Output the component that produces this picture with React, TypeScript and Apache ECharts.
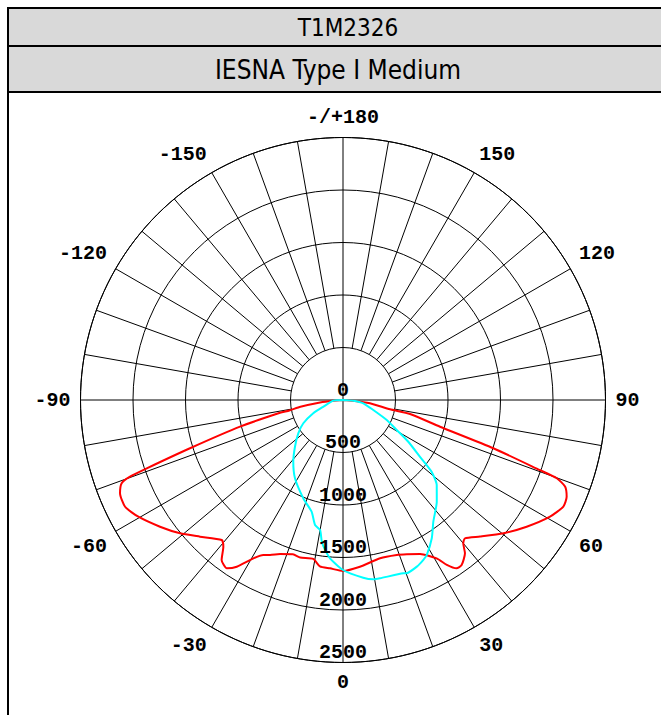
import React, { useEffect, useRef } from "react";
import * as echarts from "echarts";

// ---- Data ----
const titleText = "T1M2326";
const subtitleText = "IESNA Type I Medium";

const radiusTicks = [0, 500, 1000, 1500, 2000, 2500];
const angleLabelStep = 30;
const spokeAngles = [
  -170, -160, -150, -140, -130, -120, -110, -100, -90, -80, -70, -60, -50, -40, -30, -20, -10,
  0, 10, 20, 30, 40, 50, 60, 70, 80, 90, 100, 110, 120, 130, 140, 150, 160, 170, 180,
];
const throughCenterAngles = [-90, 0, 90, 180];

// Red curve (90-270 plane): angle (deg, 0 = nadir), candela
const redAngles = [
  -90, -86, -84, -81, -79, -78.5, -75.5, -72.5, -70.8, -70.2, -69.4, -67.3, -63.9, -60.3, -55.3,
  -50.7, -46.3, -40.9, -39.2, -37.2, -34.6, -32.5, -29.5, -27.2, -25.2, -22.2, -18, -15.2, -10.6,
  -7.9, -4.4, 0, 5.8, 13.2, 19.1, 22.5, 26.6, 30.6, 32.2, 34, 35.7, 38.5, 40, 41.4, 45.1, 50.3,
  55.4, 60.6, 64.2, 66.6, 68.7, 69.9, 70.4, 72.2, 74.6, 78.2, 78.8, 83, 86, 90,
];
const redValues = [
  0, 95, 220, 410, 520, 612, 1013, 1528, 1979, 2156, 2252, 2302, 2311, 2244, 2120,
  2005, 1884, 1764, 1803, 1912, 1948, 1883, 1733, 1660, 1632, 1585, 1545, 1555, 1540,
  1600, 1608, 1628, 1596, 1548, 1562, 1590, 1640, 1752, 1856, 1934, 1936, 1866, 1782, 1756, 1843, 1986,
  2125, 2263, 2331, 2321, 2270, 2168, 1991, 1504, 958, 652, 456, 259, 95, 0,
];

// Cyan curve (0-180 plane)
const cyanAngles = [
  -90, -86, -71, -66, -59.6, -53.3, -45.8, -38.9, -31.5, -22, -15.7, -12.6, -10, -8.5, -6.8, -4.7,
  0, 6.5, 9.6, 11.7, 19.2, 20.2, 23.9, 26.6, 28.4, 32.7, 36.6, 42.7, 47.8, 51, 53.6, 57.4, 60.8,
  65.4, 71.7, 80.8, 86, 90,
];
const cyanValues = [
  0, 92, 200, 310, 438, 531, 638, 754, 875, 1010, 1105, 1220, 1257, 1365, 1438, 1513,
  1619, 1704, 1732, 1734, 1748, 1758, 1736, 1705, 1678, 1565, 1443, 1317, 1205, 1086, 911, 738, 586,
  458, 304, 196, 98, 0,
];

const MONO = "'Liberation Mono', 'DejaVu Sans Mono', monospace";
const HEAD = "'Liberation Sans Narrow', 'DejaVu Sans Condensed', Roboto, 'Liberation Sans', sans-serif";

export default function App() {
  const ref = useRef<HTMLDivElement>(null);

  useEffect(() => {
    if (!ref.current) return;
    const chart = echarts.init(ref.current, null, { renderer: "svg" });

    const rMax = radiusTicks[radiusTicks.length - 1];
    const spokeSeries = spokeAngles.map((a) => ({
      type: "line",
      coordinateSystem: "polar",
      data: [
        [throughCenterAngles.includes(a) ? 0 : radiusTicks[1], a],
        [rMax, a],
      ],
      symbol: "none",
      silent: true,
      z: 1,
      lineStyle: { color: "#000", width: 1 },
    }));

    const option: any = {
      animation: false,
      backgroundColor: "#fff",
      polar: { center: [343, 400], radius: 262.5 },
      angleAxis: {
        type: "value",
        min: -180,
        max: 180,
        interval: angleLabelStep,
        startAngle: 90,
        clockwise: false,
        axisLine: { show: true, lineStyle: { color: "#000", width: 1 } },
        axisTick: { show: false },
        splitLine: { show: false },
        axisLabel: {
          margin: 10,
          color: "#000",
          fontFamily: MONO,
          fontWeight: "bold",
          fontSize: 20,
          formatter: (v: number) => (v === -180 ? "-/+180" : v === 180 ? "" : String(v)),
        },
      },
      radiusAxis: {
        type: "value",
        min: 0,
        max: rMax,
        interval: 500,
        axisLine: { show: false },
        axisTick: { show: false },
        axisLabel: { show: false },
        splitLine: { show: true, lineStyle: { color: "#000", width: 1 } },
      },
      graphic: [
        {
          type: "rect",
          shape: { x: 8, y: 8, width: 670, height: 38 },
          style: { fill: "#d9d9d9", stroke: "#000", lineWidth: 2 },
        },
        {
          type: "rect",
          shape: { x: 8, y: 46, width: 670, height: 46 },
          style: { fill: "#d9d9d9", stroke: "#000", lineWidth: 2 },
        },
        {
          type: "line",
          shape: { x1: 8, y1: 92, x2: 8, y2: 720 },
          style: { stroke: "#000", lineWidth: 2 },
        },
        {
          type: "text",
          x: 348,
          y: 28,
          style: {
            text: titleText,
            fill: "#000",
            font: `24px ${HEAD}`,
            align: "center",
            verticalAlign: "middle",
          },
        },
        {
          type: "text",
          x: 338,
          y: 70,
          style: {
            text: subtitleText,
            fill: "#000",
            font: `26px ${HEAD}`,
            align: "center",
            verticalAlign: "middle",
          },
        },
      ],
      series: [
        ...spokeSeries,
        {
          type: "line",
          coordinateSystem: "polar",
          data: redAngles.map((a, i) => [redValues[i], a]),
          symbol: "none",
          smooth: 0.2,
          z: 3,
          lineStyle: { color: "#ff0000", width: 2 },
        },
        {
          type: "line",
          coordinateSystem: "polar",
          data: cyanAngles.map((a, i) => [cyanValues[i], a]),
          symbol: "none",
          smooth: 0.2,
          z: 3,
          lineStyle: { color: "#00ffff", width: 2 },
        },
        {
          type: "scatter",
          coordinateSystem: "polar",
          data: radiusTicks.map((v) => [v, 0]),
          symbolSize: 0,
          silent: true,
          z: 4,
          itemStyle: { opacity: 1 },
          label: {
            show: true,
            position: "top",
            distance: 0,
            color: "#000",
            opacity: 1,
            fontFamily: MONO,
            fontWeight: "bold",
            fontSize: 20,
            formatter: (p: any) => String(p.value[0]),
          },
        },
      ],
    };

    chart.setOption(option);
    return () => chart.dispose();
  }, []);

  return (
    <div
      ref={ref}
      style={{ position: "absolute", left: 0, top: 0, width: 661, height: 715 }}
    />
  );
}
